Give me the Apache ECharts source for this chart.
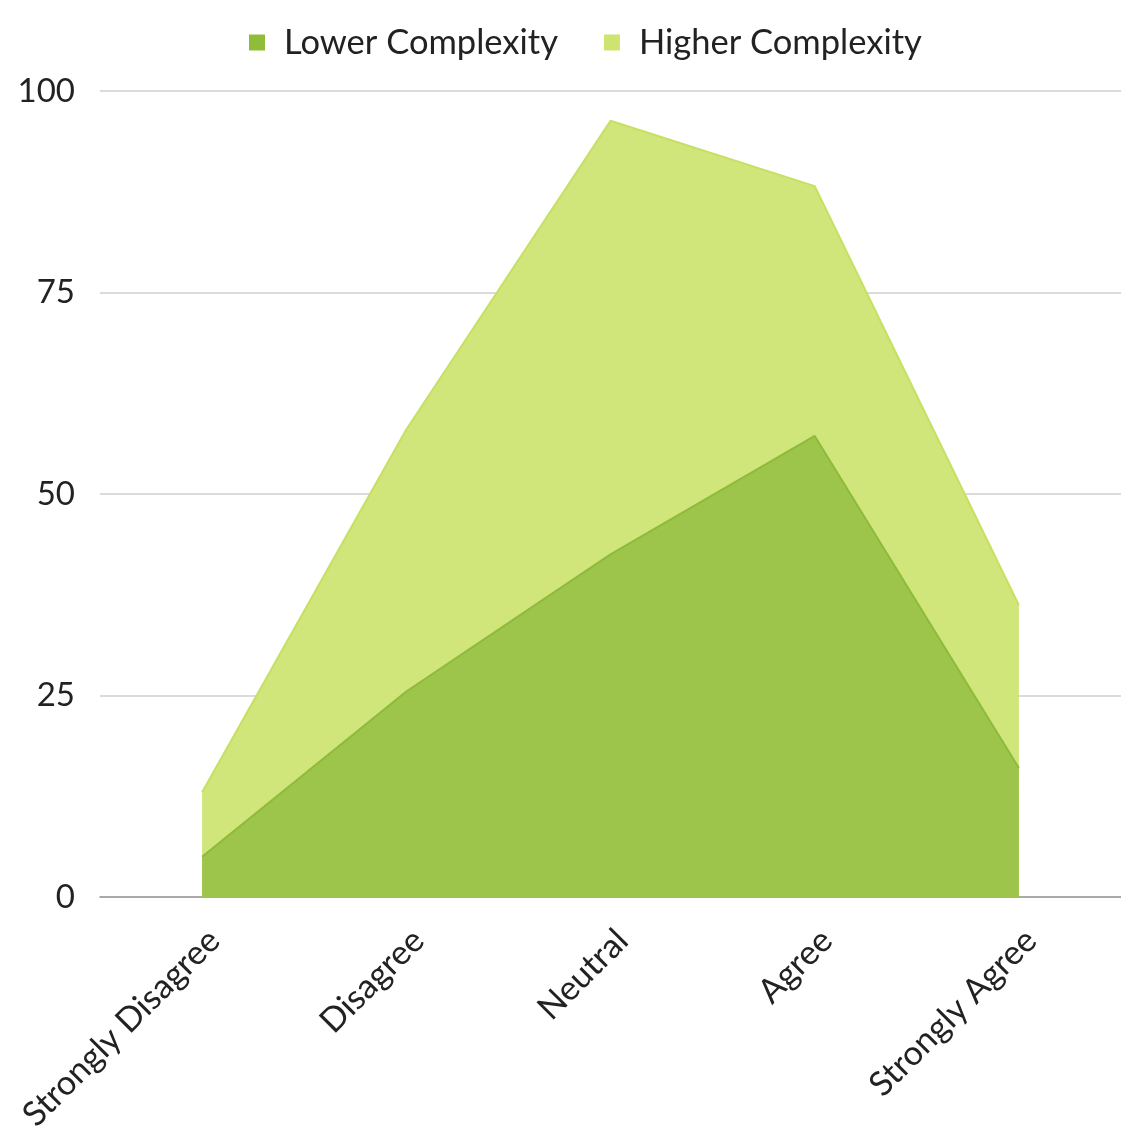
<!DOCTYPE html>
<html>
<head>
<meta charset="utf-8">
<script src="https://cdn.jsdelivr.net/npm/echarts@6/dist/echarts.min.js"></script>
<style>html,body{margin:0;padding:0;background:#fff;}#c{width:1121px;height:1135px;}</style>
</head>
<body>
<div id="c"></div>
<script>
const categories = ['Strongly Disagree', 'Disagree', 'Neutral', 'Agree', 'Strongly Agree'];
const lowerComplexity = [5, 25.5, 42.5, 57.2, 16];
const higherComplexity = [13, 58, 96.3, 88.2, 36.2];
const yTicks = [0, 25, 50, 75, 100];

const chart = echarts.init(document.getElementById('c'));
const font = 'Lato';
chart.setOption({
  animation: false,
  backgroundColor: '#fff',
  legend: {
    top: 20,
    left: 244,
    itemWidth: 16,
    itemHeight: 16,
    itemGap: 46,
    icon: 'rect',
    textStyle: { fontFamily: font, fontSize: 34.5, color: '#222', padding: [0, 0, 0, 14] },
    data: ['Lower Complexity', 'Higher Complexity']
  },
  grid: { left: 100, right: 0, top: 91, bottom: 238, containLabel: false },
  xAxis: {
    type: 'category',
    data: categories,
    boundaryGap: true,
    axisLine: { lineStyle: { color: '#999', width: 1.5 } },
    axisTick: { show: false },
    axisLabel: { rotate: 45, margin: 26, verticalAlign: 'top', fontFamily: font, fontSize: 34, color: '#222' }
  },
  yAxis: {
    type: 'value',
    min: 0, max: 100, interval: 25,
    axisLine: { show: false },
    axisTick: { show: false },
    splitLine: { lineStyle: { color: '#cfcfcf', width: 1.5 } },
    axisLabel: { margin: 25, fontFamily: font, fontSize: 33, color: '#222',
      formatter: v => yTicks.includes(v) ? String(v) : '' }
  },
  series: [
    {
      name: 'Lower Complexity', type: 'line', data: lowerComplexity, z: 3,
      symbol: 'none', color: '#8fbd3a',
      lineStyle: { color: '#8dbb3a', width: 2 },
      areaStyle: { color: '#9dc44b', opacity: 1 }
    },
    {
      name: 'Higher Complexity', type: 'line', data: higherComplexity, z: 2,
      symbol: 'none', color: '#cde46f',
      lineStyle: { color: '#c6e062', width: 2 },
      areaStyle: { color: '#d0e57a', opacity: 1 }
    }
  ]
});
</script>
</body>
</html>
